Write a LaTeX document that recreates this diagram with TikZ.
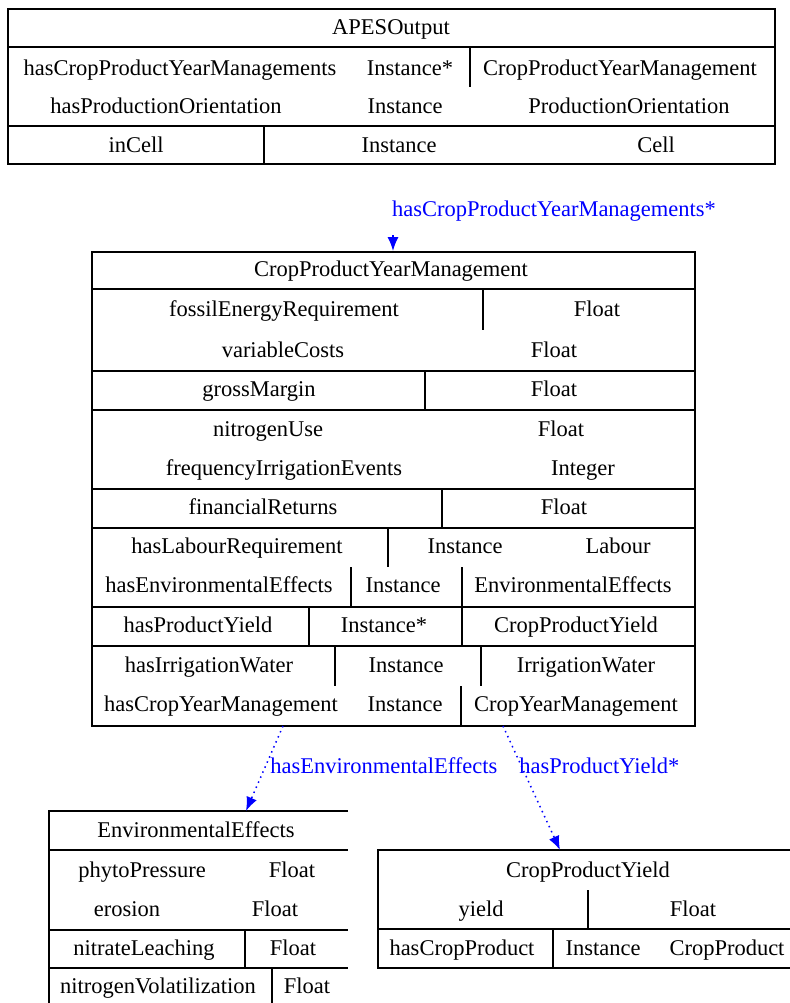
\documentclass[tikz,border=0pt]{standalone}
\usepackage{fontspec}
\setmainfont{Liberation Serif}
\usetikzlibrary{arrows.meta}
\tikzset{
  rec/.style={line width=0.9pt},
  fld/.style={inner sep=0pt, font=\fontsize{11.25}{13}\selectfont, text height=1.6ex, text depth=.4ex},
  lbl/.style={fld, text=blue},
  lnk/.style={blue, line width=0.75pt, dotted, -{Latex[length=7pt,width=5.5pt]}}
}
\begin{document}
\begin{tikzpicture}[x=0.5pt,y=-0.5pt]
\useasboundingbox (0,0) rectangle (790,1003);
% APESOutput
\draw[rec] (8,9) rectangle (775,164);
\draw[rec] (8,47) -- (775,47);
\draw[rec] (8,126) -- (775,126);
\draw[rec] (470,47) -- (470,87);
\draw[rec] (264,126) -- (264,164);
\node[fld] (apes) at (391,29) {APESOutput};
\node[fld] (apesP1) at (180,70) {hasCropProductYearManagements};
\node[fld] (apesT1) at (410,70) {Instance*};
\node[fld] (apesR1) at (620,70) {CropProductYearManagement};
\node[fld] (apesP2) at (166,108) {hasProductionOrientation};
\node[fld] (apesT2) at (405,108) {Instance};
\node[fld] (apesR2) at (629,108) {ProductionOrientation};
\node[fld] (apesP3) at (136,147) {inCell};
\node[fld] (apesT3) at (399,147) {Instance};
\node[fld] (apesR3) at (656,147) {Cell};
% CropProductYearManagement
\draw[rec] (92,252) rectangle (695,726);
\foreach \y in {289,371,410,489,528,607,646}
  \draw[rec] (92,\y) -- (695,\y);
\foreach \x/\ya/\yb in {483/289/330, 425/371/410, 442/489/528, 388/528/567,
    351/567/607, 462/567/607, 309/607/646, 462/607/646, 335/646/686,
    481/646/686, 461/686/726}
  \draw[rec] (\x,\ya) -- (\x,\yb);
\node[fld] (cpym) at (391,271) {CropProductYearManagement};
\node[fld] (cpymP1) at (284,311) {fossilEnergyRequirement};
\node[fld] (cpymT1) at (597,311) {Float};
\node[fld] (cpymP2) at (283,352) {variableCosts};
\node[fld] (cpymT2) at (554,352) {Float};
\node[fld] (cpymP3) at (259,391) {grossMargin};
\node[fld] (cpymT3) at (554,391) {Float};
\node[fld] (cpymP4) at (268,431) {nitrogenUse};
\node[fld] (cpymT4) at (561,431) {Float};
\node[fld] (cpymP5) at (284,470) {frequencyIrrigationEvents};
\node[fld] (cpymT5) at (583,470) {Integer};
\node[fld] (cpymP6) at (263,509) {financialReturns};
\node[fld] (cpymT6) at (564,509) {Float};
\node[fld] (cpymP7) at (237,548) {hasLabourRequirement};
\node[fld] (cpymT7) at (465,548) {Instance};
\node[fld] (cpymR7) at (618,548) {Labour};
\node[fld] (cpymP8) at (219,587) {hasEnvironmentalEffects};
\node[fld] (cpymT8) at (403,587) {Instance};
\node[fld] (cpymR8) at (573,587) {EnvironmentalEffects};
\node[fld] (cpymP9) at (198,627) {hasProductYield};
\node[fld] (cpymT9) at (384,627) {Instance*};
\node[fld] (cpymR9) at (576,627) {CropProductYield};
\node[fld] (cpymP10) at (209,667) {hasIrrigationWater};
\node[fld] (cpymT10) at (406,667) {Instance};
\node[fld] (cpymR10) at (586,667) {IrrigationWater};
\node[fld] (cpymP11) at (221,706) {hasCropYearManagement};
\node[fld] (cpymT11) at (405,706) {Instance};
\node[fld] (cpymR11) at (576,706) {CropYearManagement};
% EnvironmentalEffects
\draw[rec] (348,811) -- (49,811) -- (49,1003);
\foreach \y in {850,930,968}
  \draw[rec] (49,\y) -- (348,\y);
\draw[rec] (245,930) -- (245,968);
\draw[rec] (272,968) -- (272,1003);
\node[fld] (envfx) at (196,832) {EnvironmentalEffects};
\node[fld] (envfxP1) at (142,872) {phytoPressure};
\node[fld] (envfxT1) at (292,872) {Float};
\node[fld] (envfxP2) at (127,911) {erosion};
\node[fld] (envfxT2) at (275,911) {Float};
\node[fld] (envfxP3) at (144,950) {nitrateLeaching};
\node[fld] (envfxT3) at (293,950) {Float};
\node[fld] (envfxP4) at (158,988) {nitrogenVolatilization};
\node[fld] (envfxT4) at (307,988) {Float};
% CropProductYield
\draw[rec] (790,850) -- (378,850) -- (378,968) -- (790,968);
\draw[rec] (378,929) -- (790,929);
\draw[rec] (588,890) -- (588,929);
\draw[rec] (553,929) -- (553,968);
\node[fld] (cpy) at (588,872) {CropProductYield};
\node[fld] (cpyP1) at (481,911) {yield};
\node[fld] (cpyT1) at (693,911) {Float};
\node[fld] (cpyP2) at (462,950) {hasCropProduct};
\node[fld] (cpyT2) at (603,950) {Instance};
\node[fld] (cpyR2) at (727,950) {CropProduct};
% links
\coordinate (apesOut) at (393,235);
\coordinate (cpymIn) at (393,251);
\coordinate (envOut) at (283,726);
\coordinate (envIn) at (246,811);
\coordinate (yldOut) at (503,726);
\coordinate (yldIn) at (560,850);
\draw[lnk] (apesOut) -- (cpymIn);
\draw[lnk] (envOut) -- (envIn);
\draw[lnk] (yldOut) -- (yldIn);
\node[lbl] (lblCpym) at (554,211) {hasCropProductYearManagements*};
\node[lbl,anchor=west] (lblEnv) at (270,768) {hasEnvironmentalEffects};
\node[lbl,anchor=west] (lblYld) at (519,768) {hasProductYield*};
\end{tikzpicture}
\end{document}
